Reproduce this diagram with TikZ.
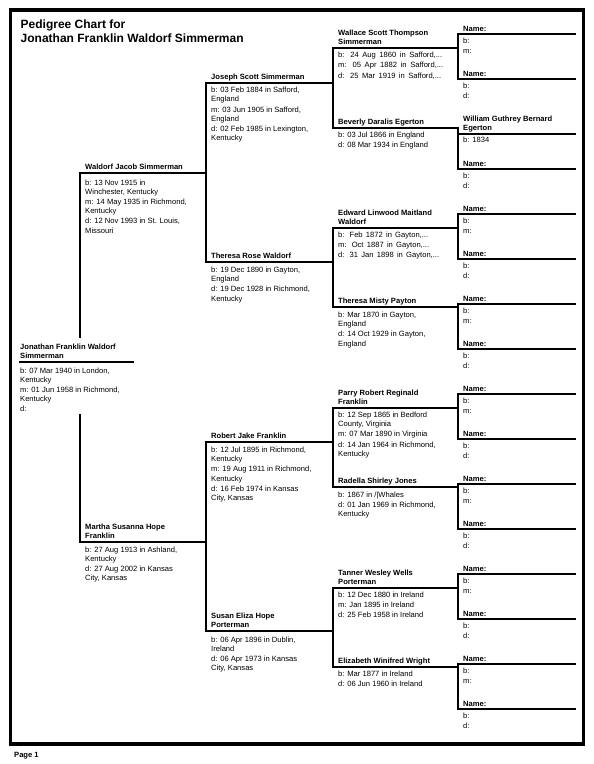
\documentclass[tikz,border=0pt]{standalone}
\usepackage{fontspec}
\setmainfont{Liberation Sans}

\newcommand{\spreadto}[2]{\makebox[#1][s]{#2}}
\newcommand{\rws}[1]{\begin{tabular}[t]{@{}l@{}}#1\end{tabular}}

\begin{document}
\begin{tikzpicture}[
    x=1pt, y=-1pt,
    txt/.style={anchor=base west, inner sep=0pt},
    nm/.style={txt, font=\fontsize{7.6}{9}\selectfont\bfseries},
    dt/.style={txt, font=\fontsize{7.6}{9.2}\selectfont},
    ttl/.style={txt, font=\fontsize{12}{14}\selectfont\bfseries},
    ln/.style={line width=1.1pt, line cap=rect},
    frm/.style={line width=3.3pt},
  ]

  \useasboundingbox (0,0) rectangle (594,764);
  \draw[frm] (10.7,10) rectangle (583.3,744);

  \node[ttl] (title) at (20.5,28.3)
    {\rws{Pedigree Chart for\\Jonathan Franklin Waldorf Simmerman}};
  \node[nm] (page) at (14,757) {Page 1};

  % -- Generation 1
  \coordinate (jfws) at (20,362);
  \node[nm] (jfwsN) at (20,349) {\rws{Jonathan Franklin Waldorf\\Simmerman}};
  \node[dt] (jfwsD) at (20,373)
    {\rws{b: 07 Mar 1940 in London,\\Kentucky\\[1pt]
     m: 01 Jun 1958 in Richmond,\\Kentucky\\[1pt]d:}};

  % -- Generation 2
  \coordinate (wjs) at (80,173);
  \node[nm] (wjsN) at (85,169) {Waldorf Jacob Simmerman};
  \node[dt] (wjsD) at (85,185)
    {\rws{b: 13 Nov 1915 in\\Winchester, Kentucky\\[1pt]
     m: 14 May 1935 in Richmond,\\Kentucky\\[1pt]
     d: 12 Nov 1993 in St. Louis,\\Missouri}};
  \coordinate (mshf) at (80,542);
  \node[nm] (mshfN) at (85,529) {\rws{Martha Susanna Hope\\Franklin}};
  \node[dt] (mshfD) at (85,552)
    {\rws{b: 27 Aug 1913 in Ashland,\\Kentucky\\[1pt]
     d: 27 Aug 2002 in Kansas\\City, Kansas}};

  % -- Generation 3
  \coordinate (jss) at (206,83);
  \node[nm] (jssN) at (211,79.5) {Joseph Scott Simmerman};
  \node[dt] (jssD) at (211,92.7)
    {\rws{b: 03 Feb 1884 in Safford,\\England\\[1pt]
     m: 03 Jun 1905 in Safford,\\England\\[1pt]
     d: 02 Feb 1985 in Lexington,\\Kentucky}};
  \coordinate (trw) at (206,262);
  \node[nm] (trwN) at (211,258.5) {Theresa Rose Waldorf};
  \node[dt] (trwD) at (211,272.5)
    {\rws{b: 19 Dec 1890 in Gayton,\\England\\[1pt]
     d: 19 Dec 1928 in Richmond,\\Kentucky}};
  \coordinate (rjf) at (206,442);
  \node[nm] (rjfN) at (211,438.5) {Robert Jake Franklin};
  \node[dt] (rjfD) at (211,452.5)
    {\rws{b: 12 Jul 1895 in Richmond,\\Kentucky\\[1pt]
     m: 19 Aug 1911 in Richmond,\\Kentucky\\[1pt]
     d: 16 Feb 1974 in Kansas\\City, Kansas}};
  \coordinate (sehp) at (206,631);
  \node[nm] (sehpN) at (211,618) {\rws{Susan Eliza Hope\\Porterman}};
  \node[dt] (sehpD) at (211,642)
    {\rws{b: 06 Apr 1896 in Dublin,\\Ireland\\[1pt]
     d: 06 Apr 1973 in Kansas\\City, Kansas}};

  % -- Generation 4
  \coordinate (wsts) at (333,48);
  \node[nm] (wstsN) at (338,35.3) {\rws{Wallace Scott Thompson\\Simmerman}};
  \node[dt] (wstsD) at (338,57.7)
    {\rws{\spreadto{104pt}{b: 24 Aug 1860 in Safford,...}\\[1pt]
     \spreadto{105pt}{m: 05 Apr 1882 in Safford,...}\\[1pt]
     \spreadto{103pt}{d: 25 Mar 1919 in Safford,...}}};
  \coordinate (bde) at (333,128);
  \node[nm] (bdeN) at (338,124.5) {Beverly Daralis Egerton};
  \node[dt] (bdeD) at (338,137.7)
    {\rws{b: 03 Jul 1866 in England\\[1pt]d: 08 Mar 1934 in England}};
  \coordinate (elmw) at (333,228);
  \node[nm] (elmwN) at (338,215) {\rws{Edward Linwood Maitland\\Waldorf}};
  \node[dt] (elmwD) at (338,237.5)
    {\rws{\spreadto{90pt}{b: Feb 1872 in Gayton,...}\\[1pt]
     \spreadto{91pt}{m: Oct 1887 in Gayton,...}\\[1pt]
     \spreadto{101pt}{d: 31 Jan 1898 in Gayton,...}}};
  \coordinate (tmp) at (333,307);
  \node[nm] (tmpN) at (338,303.5) {Theresa Misty Payton};
  \node[dt] (tmpD) at (338,317.5)
    {\rws{b: Mar 1870 in Gayton,\\England\\[1pt]
     d: 14 Oct 1929 in Gayton,\\England}};
  \coordinate (prrf) at (333,408);
  \node[nm] (prrfN) at (338,395) {\rws{Parry Robert Reginald\\Franklin}};
  \node[dt] (prrfD) at (338,417.5)
    {\rws{b: 12 Sep 1865 in Bedford\\County, Virginia\\[1pt]
     m: 07 Mar 1890 in Virginia\\[1pt]
     d: 14 Jan 1964 in Richmond,\\Kentucky}};
  \coordinate (rsj) at (333,487);
  \node[nm] (rsjN) at (338,483.5) {Radella Shirley Jones};
  \node[dt] (rsjD) at (338,497.3)
    {\rws{b: 1867 in /|Whales\\[1pt]
     d: 01 Jan 1969 in Richmond,\\Kentucky}};
  \coordinate (twwp) at (333,588);
  \node[nm] (twwpN) at (338,575) {\rws{Tanner Wesley Wells\\Porterman}};
  \node[dt] (twwpD) at (338,597)
    {\rws{b: 12 Dec 1880 in Ireland\\[1pt]m: Jan 1895 in Ireland\\[1pt]
     d: 25 Feb 1958 in Ireland}};
  \coordinate (eww) at (333,667);
  \node[nm] (ewwN) at (338,663.5) {Elizabeth Winifred Wright};
  \node[dt] (ewwD) at (338,676.7)
    {\rws{b: Mar 1877 in Ireland\\[1pt]d: 06 Jun 1960 in Ireland}};

  % -- Generation 5
  \coordinate (a16) at (458,34);
  \node[nm] (a16N) at (463,31) {Name:};
  \node[dt] (a16D) at (463,43.5) {\rws{b:\\[1pt]m:}};
  \coordinate (a17) at (458,79);
  \node[nm] (a17N) at (463,76) {Name:};
  \node[dt] (a17D) at (463,88.5) {\rws{b:\\[1pt]d:}};
  \coordinate (wgbe) at (458,134);
  \node[nm] (wgbeN) at (463,121) {\rws{William Guthrey Bernard\\Egerton}};
  \node[dt] (wgbeD) at (463,142) {b: 1834};
  \coordinate (a19) at (458,169);
  \node[nm] (a19N) at (463,166) {Name:};
  \node[dt] (a19D) at (463,178.5) {\rws{b:\\[1pt]d:}};
  \coordinate (a20) at (458,214);
  \node[nm] (a20N) at (463,211) {Name:};
  \node[dt] (a20D) at (463,223.5) {\rws{b:\\[1pt]m:}};
  \coordinate (a21) at (458,259);
  \node[nm] (a21N) at (463,256) {Name:};
  \node[dt] (a21D) at (463,268.5) {\rws{b:\\[1pt]d:}};
  \coordinate (a22) at (458,304);
  \node[nm] (a22N) at (463,301) {Name:};
  \node[dt] (a22D) at (463,313.5) {\rws{b:\\[1pt]m:}};
  \coordinate (a23) at (458,349);
  \node[nm] (a23N) at (463,346) {Name:};
  \node[dt] (a23D) at (463,358.5) {\rws{b:\\[1pt]d:}};
  \coordinate (a24) at (458,394);
  \node[nm] (a24N) at (463,391) {Name:};
  \node[dt] (a24D) at (463,403.5) {\rws{b:\\[1pt]m:}};
  \coordinate (a25) at (458,439);
  \node[nm] (a25N) at (463,436) {Name:};
  \node[dt] (a25D) at (463,448.5) {\rws{b:\\[1pt]d:}};
  \coordinate (a26) at (458,484);
  \node[nm] (a26N) at (463,481) {Name:};
  \node[dt] (a26D) at (463,493.5) {\rws{b:\\[1pt]m:}};
  \coordinate (a27) at (458,529);
  \node[nm] (a27N) at (463,526) {Name:};
  \node[dt] (a27D) at (463,538.5) {\rws{b:\\[1pt]d:}};
  \coordinate (a28) at (458,574);
  \node[nm] (a28N) at (463,571) {Name:};
  \node[dt] (a28D) at (463,583.5) {\rws{b:\\[1pt]m:}};
  \coordinate (a29) at (458,619);
  \node[nm] (a29N) at (463,616) {Name:};
  \node[dt] (a29D) at (463,628.5) {\rws{b:\\[1pt]d:}};
  \coordinate (a30) at (458,664);
  \node[nm] (a30N) at (463,661) {Name:};
  \node[dt] (a30D) at (463,673.5) {\rws{b:\\[1pt]m:}};
  \coordinate (a31) at (458,709);
  \node[nm] (a31N) at (463,706) {Name:};
  \node[dt] (a31D) at (463,718.5) {\rws{b:\\[1pt]d:}};

  % -- Connectors: gen 1 -> 2 (broken round the root entry)
  \coordinate (gapT) at (80,337);
  \coordinate (gapB) at (80,415);
  \draw[ln] (jfws) -- ++(113,0);
  \draw[ln] (wjs) -- (gapT);
  \draw[ln] (gapB) -- (mshf);

  % -- Connectors: gen 2 -> 3
  \draw[ln] (wjs) -- (wjs -| jss);
  \draw[ln] (mshf) -- (mshf -| rjf);
  \draw[ln] (jss) -- (trw);
  \draw[ln] (rjf) -- (sehp);

  % -- Connectors: gen 3 -> 4
  \draw[ln] (jss) -- (jss -| wsts);
  \draw[ln] (trw) -- (trw -| elmw);
  \draw[ln] (rjf) -- (rjf -| prrf);
  \draw[ln] (sehp) -- (sehp -| twwp);
  \draw[ln] (wsts) -- (bde);
  \draw[ln] (elmw) -- (tmp);
  \draw[ln] (prrf) -- (rsj);
  \draw[ln] (twwp) -- (eww);

  % -- Connectors: gen 4 -> 5
  \draw[ln] (wsts) -- (wsts -| a16);
  \draw[ln] (bde) -- (bde -| wgbe);
  \draw[ln] (elmw) -- (elmw -| a20);
  \draw[ln] (tmp) -- (tmp -| a22);
  \draw[ln] (prrf) -- (prrf -| a24);
  \draw[ln] (rsj) -- (rsj -| a26);
  \draw[ln] (twwp) -- (twwp -| a28);
  \draw[ln] (eww) -- (eww -| a30);
  \draw[ln] (a16) -- (a17);
  \draw[ln] (bde -| wgbe) -- (a19);
  \draw[ln] (a20) -- (a21);
  \draw[ln] (a22) -- (a23);
  \draw[ln] (a24) -- (a25);
  \draw[ln] (a26) -- (a27);
  \draw[ln] (a28) -- (a29);
  \draw[ln] (a30) -- (a31);

  % -- Gen 5 name lines
  \draw[ln] (a16) -- ++(117,0);
  \draw[ln] (a17) -- ++(117,0);
  \draw[ln] (wgbe) -- ++(117,0);
  \draw[ln] (a19) -- ++(117,0);
  \draw[ln] (a20) -- ++(117,0);
  \draw[ln] (a21) -- ++(117,0);
  \draw[ln] (a22) -- ++(117,0);
  \draw[ln] (a23) -- ++(117,0);
  \draw[ln] (a24) -- ++(117,0);
  \draw[ln] (a25) -- ++(117,0);
  \draw[ln] (a26) -- ++(117,0);
  \draw[ln] (a27) -- ++(117,0);
  \draw[ln] (a28) -- ++(117,0);
  \draw[ln] (a29) -- ++(117,0);
  \draw[ln] (a30) -- ++(117,0);
  \draw[ln] (a31) -- ++(117,0);

\end{tikzpicture}
\end{document}
